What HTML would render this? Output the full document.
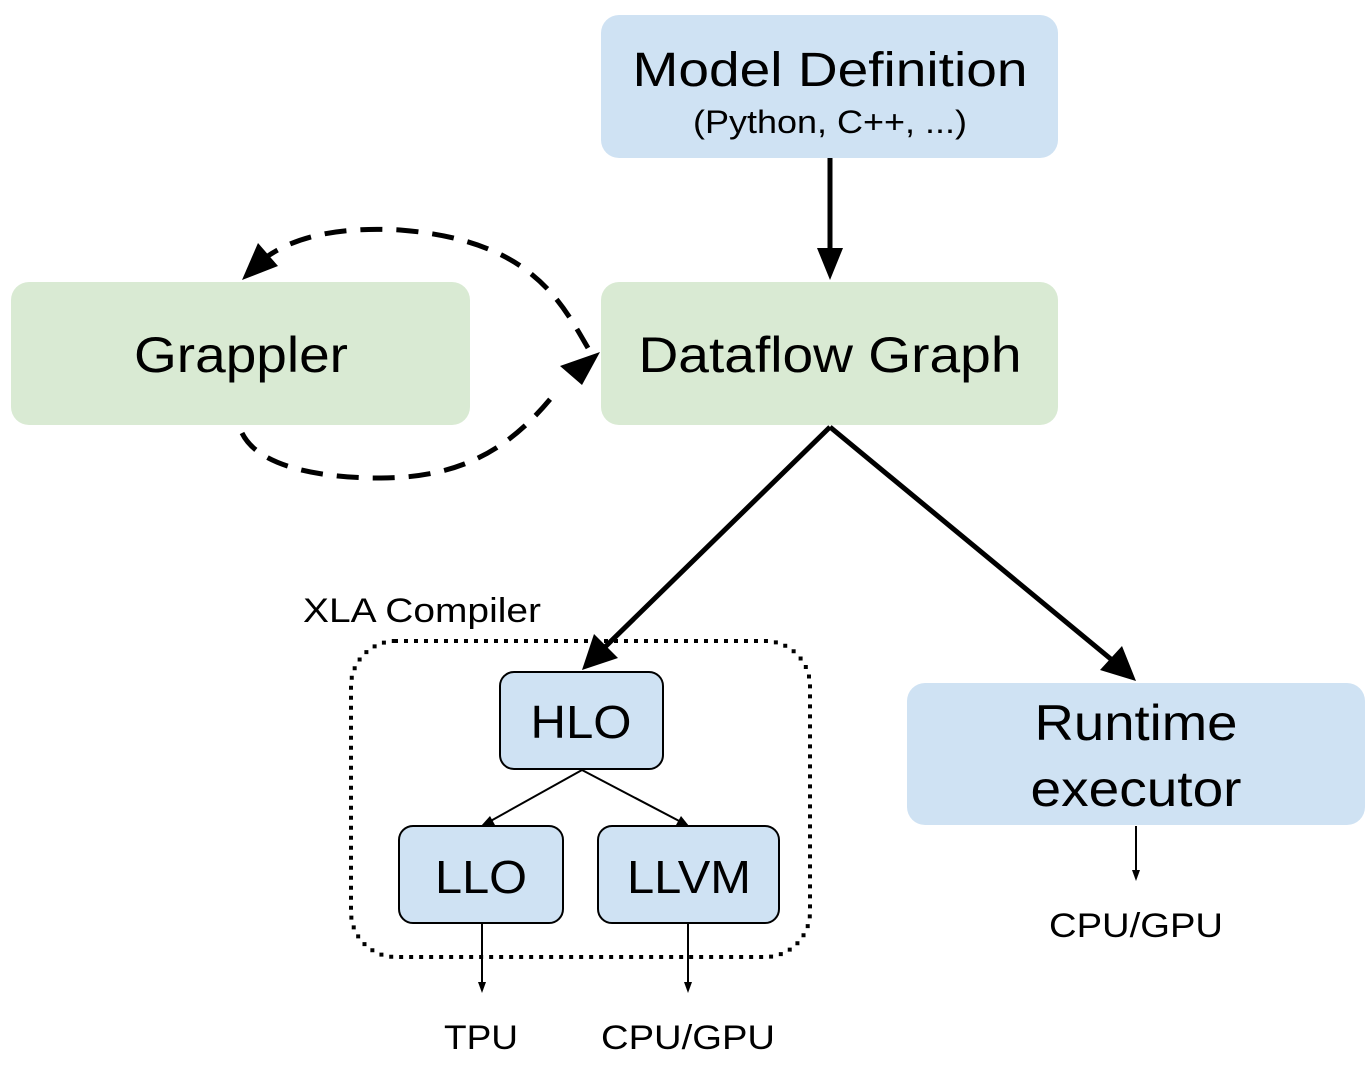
<!DOCTYPE html>
<html><head><style>
html,body{margin:0;padding:0;background:#fff;}
svg{display:block;}
text{font-family:"Liberation Sans",Arial,sans-serif;fill:#000;}
</style></head><body>
<svg width="1370" height="1066" viewBox="0 0 1370 1066" xmlns="http://www.w3.org/2000/svg">
<rect x="601" y="15" width="457" height="143" rx="18" fill="#cfe2f3"/>
<text x="830" y="86" font-size="48" text-anchor="middle" textLength="395" lengthAdjust="spacingAndGlyphs">Model Definition</text>
<text x="830" y="133" font-size="32" text-anchor="middle" textLength="274" lengthAdjust="spacingAndGlyphs">(Python, C++, ...)</text>

<rect x="11" y="282" width="459" height="143" rx="18" fill="#d9ead3"/>
<text x="241" y="372" font-size="50" text-anchor="middle" textLength="214" lengthAdjust="spacingAndGlyphs">Grappler</text>

<rect x="601" y="282" width="457" height="143" rx="18" fill="#d9ead3"/>
<text x="830" y="372" font-size="50" text-anchor="middle" textLength="383" lengthAdjust="spacingAndGlyphs">Dataflow Graph</text>

<rect x="907" y="683" width="458" height="142" rx="18" fill="#cfe2f3"/>
<text x="1136" y="740" font-size="50" text-anchor="middle" textLength="203" lengthAdjust="spacingAndGlyphs">Runtime</text>
<text x="1136" y="806" font-size="50" text-anchor="middle" textLength="211" lengthAdjust="spacingAndGlyphs">executor</text>

<rect x="351" y="641" width="459" height="316" rx="45" fill="none" stroke="#000" stroke-width="4" stroke-dasharray="0 10" stroke-linecap="square"/>
<text x="303" y="622" font-size="34" textLength="238" lengthAdjust="spacingAndGlyphs">XLA Compiler</text>

<rect x="500" y="672" width="163" height="97" rx="14" fill="#cfe2f3" stroke="#000" stroke-width="2"/>
<text x="581" y="738" font-size="46" text-anchor="middle" textLength="101" lengthAdjust="spacingAndGlyphs">HLO</text>
<rect x="399" y="826" width="164" height="97" rx="14" fill="#cfe2f3" stroke="#000" stroke-width="2"/>
<text x="481" y="893" font-size="46" text-anchor="middle" textLength="92" lengthAdjust="spacingAndGlyphs">LLO</text>
<rect x="598" y="826" width="181" height="97" rx="14" fill="#cfe2f3" stroke="#000" stroke-width="2"/>
<text x="689" y="893" font-size="46" text-anchor="middle" textLength="124" lengthAdjust="spacingAndGlyphs">LLVM</text>

<line x1="830" y1="158" x2="830" y2="250" stroke="#000" stroke-width="5"/>
<polygon points="817,248 843,248 830,280" fill="#000"/>

<line x1="830" y1="427" x2="604" y2="648" stroke="#000" stroke-width="5"/>
<polygon points="594,634 618,658 582,670" fill="#000"/>

<line x1="830" y1="427" x2="1112" y2="660" stroke="#000" stroke-width="5"/>
<polygon points="1100,670 1122,646 1136,681" fill="#000"/>

<line x1="582" y1="770" x2="487" y2="823" stroke="#000" stroke-width="2"/>
<polygon points="481,826 490,816 495,825" fill="#000"/>
<line x1="582" y1="770" x2="683" y2="823" stroke="#000" stroke-width="2"/>
<polygon points="689,826 676,825 681,816" fill="#000"/>

<line x1="482" y1="923" x2="482" y2="985" stroke="#000" stroke-width="2"/>
<polygon points="478,982 486,982 482,993" fill="#000"/>
<line x1="688" y1="923" x2="688" y2="985" stroke="#000" stroke-width="2"/>
<polygon points="684,982 692,982 688,993" fill="#000"/>
<line x1="1136" y1="826" x2="1136" y2="872" stroke="#000" stroke-width="2"/>
<polygon points="1132,870 1140,870 1136,881" fill="#000"/>

<text x="481" y="1049" font-size="34" text-anchor="middle" textLength="74" lengthAdjust="spacingAndGlyphs">TPU</text>
<text x="688" y="1049" font-size="34" text-anchor="middle" textLength="174" lengthAdjust="spacingAndGlyphs">CPU/GPU</text>
<text x="1136" y="937" font-size="34" text-anchor="middle" textLength="174" lengthAdjust="spacingAndGlyphs">CPU/GPU</text>

<path d="M 588 348 C 560 300, 530 240, 400 230 C 330 226, 290 240, 265 258" fill="none" stroke="#000" stroke-width="5" stroke-dasharray="22 14"/>
<polygon points="242,280 258,243 278,266" fill="#000"/>
<path d="M 242 433 C 260 470, 330 478, 380 478 C 460 478, 510 450, 556 392" fill="none" stroke="#000" stroke-width="5" stroke-dasharray="22 14"/>
<polygon points="600,352 582,385 560,366" fill="#000"/>
</svg>
</body></html>
